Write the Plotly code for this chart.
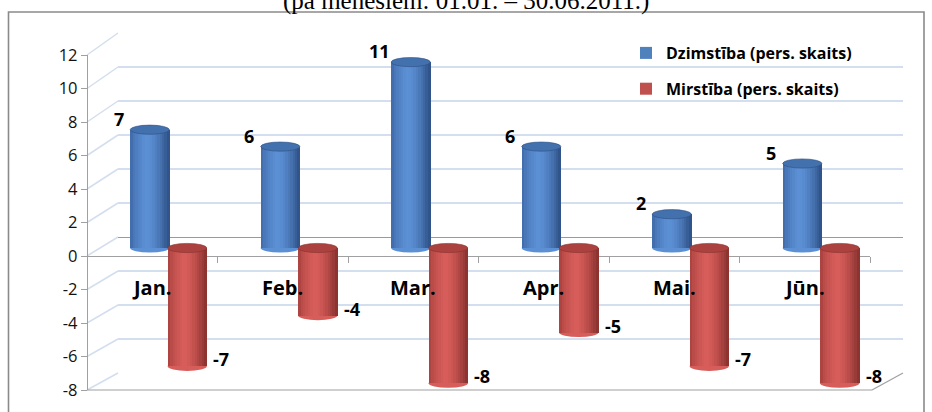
import plotly.graph_objects as go

# ---------------- data ----------------
categories = ["Jan.", "Feb.", "Mar.", "Apr.", "Mai.", "Jūn."]
births = [7, 6, 11, 6, 2, 5]
deaths = [-7, -4, -8, -5, -7, -8]
y_ticks = [-8, -6, -4, -2, 0, 2, 4, 6, 8, 10, 12]
series_names = ["Dzimstība (pers. skaits)", "Mirstība (pers. skaits)"]
title_text = "(pa mēnešiem: 01.01. – 30.06.2011.)"

# ---------------- geometry (pixels of the 932x412 page) ----------------
W, H = 932, 412


def fx(px):
    return px / W


def fy(py):
    return 1 - py / H


FRONT_L, FRONT_R = 87, 870
BACK_L, BACK_R = 118, 903
FRONT_ZERO, FRONT_SCALE = 256, 16.75
BACK_ZERO, BACK_SCALE = 237, 17.0
BAR_ZERO, BAR_SCALE = 248, 16.9
YMIN, YMAX = -8, 12

front_top = FRONT_ZERO - YMAX * FRONT_SCALE
front_bot = FRONT_ZERO - YMIN * FRONT_SCALE
back_top = BACK_ZERO - YMAX * BACK_SCALE
back_bot = BACK_ZERO - YMIN * BACK_SCALE
bar_range = [(BAR_ZERO - front_bot) / BAR_SCALE, (BAR_ZERO - front_top) / BAR_SCALE]

BAR_W = 0.30
BLUE_OFF = -0.169
RED_OFF = 0.118
CAP_RY = 4.6 / BAR_SCALE
N_STRIPES = 16

GRID_C = "#D3DEEE"
AXIS_C = "#A0A0A0"

blue_pal = dict(base="#4F81BD", l="#3B63A0", m="#5C91D6", r="#2D4F84", cap="#4271AE")
red_pal = dict(base="#C0504D", l="#A13C39", m="#D85E5B", r="#86302D", cap="#AC423F")


def hex2rgb(h):
    h = h.lstrip("#")
    return [int(h[i:i + 2], 16) for i in (0, 2, 4)]


def mix(c1, c2, t):
    a, b = hex2rgb(c1), hex2rgb(c2)
    return "rgb(%d,%d,%d)" % tuple(round(a[i] + (b[i] - a[i]) * t) for i in range(3))


def shade(pal, u):
    p = 0.42
    if u < p:
        return mix(pal["l"], pal["m"], (u / p) ** 0.55)
    return mix(pal["m"], pal["r"], ((u - p) / (1 - p)) ** 1.5)


fig = go.Figure()

# back wall subplot (drawn first)
fig.add_trace(go.Scatter(x=[None], y=[None], xaxis="x", yaxis="y", showlegend=False,
                         hoverinfo="skip"))

shapes = []


def add_series(values, name, pal, off, group):
    fig.add_trace(go.Bar(x=categories, y=values, name=name, offset=off, width=BAR_W,
                         marker=dict(color=pal["base"], line=dict(width=0)),
                         xaxis="x2", yaxis="y2", legendgroup=group, showlegend=True))
    sw = BAR_W / N_STRIPES
    for k in range(N_STRIPES):
        u = (k + 0.5) / N_STRIPES
        fig.add_trace(go.Bar(x=categories, y=values, offset=off + k * sw, width=sw * 1.25,
                             marker=dict(color=shade(pal, u), line=dict(width=0)),
                             xaxis="x2", yaxis="y2", legendgroup=group, showlegend=False,
                             hoverinfo="skip"))
    for i, v in enumerate(values):
        x0, x1 = i + off, i + off + BAR_W
        top_v = max(v, 0)
        bot_v = min(v, 0)
        shapes.append(dict(type="circle", xref="x2", yref="y2", x0=x0, x1=x1,
                           y0=bot_v - CAP_RY, y1=bot_v + CAP_RY,
                           fillcolor=shade(pal, 0.45), line=dict(width=0), layer="between"))
        shapes.append(dict(type="circle", xref="x2", yref="y2", x0=x0, x1=x1,
                           y0=top_v - CAP_RY, y1=top_v + CAP_RY,
                           fillcolor=pal["cap"], line=dict(color=pal["r"], width=0.6),
                           layer="above"))


add_series(births, series_names[0], blue_pal, BLUE_OFF, "g1")
add_series(deaths, series_names[1], red_pal, RED_OFF, "g2")

# front value axis subplot
fig.add_trace(go.Scatter(x=[None], y=[None], xaxis="x2", yaxis="y3", showlegend=False,
                         hoverinfo="skip"))

annotations = []
lab_font = dict(family="Open Sans", size=18, color="#000000")
for i, v in enumerate(births):
    annotations.append(dict(x=i + BLUE_OFF + BAR_W / 2, y=v, xref="x2", yref="y2",
                            text="<b>%d</b>" % v, showarrow=False, xshift=-31, yshift=11,
                            font=lab_font))
for i, v in enumerate(deaths):
    annotations.append(dict(x=i + RED_OFF + BAR_W / 2, y=v, xref="x2", yref="y2",
                            text="<b>%d</b>" % v, showarrow=False, xshift=34, yshift=7,
                            font=lab_font))
# category labels (drawn above the cylinders, as in the reference)
for c in categories:
    annotations.append(dict(x=c, y=0, xref="x2", yref="y3", text="<b>%s</b>" % c,
                            showarrow=False, yanchor="middle", yshift=-31,
                            font=dict(family="Open Sans", size=20, color="#000000")))
annotations.append(dict(x=0.5, y=fy(17), xref="paper", yref="paper", xanchor="center",
                        yanchor="bottom", text=title_text, showarrow=False,
                        font=dict(family="Liberation Serif", size=25, color="#000000")))

# frame and 3-D box edges
shapes.append(dict(type="rect", xref="paper", yref="paper", x0=fx(8.5), x1=fx(924),
                   y0=fy(430), y1=fy(12), line=dict(color="#8A8A8A", width=1.6),
                   layer="below"))
for v in y_ticks:
    shapes.append(dict(type="line", xref="paper", yref="paper",
                       x0=fx(FRONT_L), y0=fy(FRONT_ZERO - v * FRONT_SCALE),
                       x1=fx(BACK_L), y1=fy(BACK_ZERO - v * BACK_SCALE),
                       line=dict(color=GRID_C, width=1.5), layer="below"))
shapes.append(dict(type="line", xref="paper", yref="paper", x0=fx(FRONT_L), y0=fy(front_bot),
                   x1=fx(FRONT_R + 2), y1=fy(front_bot), line=dict(color=AXIS_C, width=1.2),
                   layer="below"))
shapes.append(dict(type="line", xref="paper", yref="paper", x0=fx(FRONT_R + 2), y0=fy(front_bot),
                   x1=fx(BACK_R), y1=fy(back_bot), line=dict(color=AXIS_C, width=1.2),
                   layer="below"))

fig.update_layout(
    width=W, height=H, autosize=False,
    margin=dict(l=0, r=0, t=0, b=0, pad=0, autoexpand=False),
    paper_bgcolor="white", plot_bgcolor="rgba(0,0,0,0)",
    barmode="overlay", bargap=0,
    showlegend=True,
    legend=dict(x=fx(626), y=fy(36), xanchor="left", yanchor="top",
                bgcolor="rgba(0,0,0,0)", tracegroupgap=12,
                font=dict(family="Open Sans", size=16, color="#000000", weight="bold"),
                itemclick=False, itemdoubleclick=False),
    xaxis=dict(domain=[fx(BACK_L), fx(BACK_R)], range=[0, 1], visible=False, anchor="y"),
    yaxis=dict(domain=[fy(back_bot), fy(back_top)], range=[YMIN, YMAX], anchor="x",
               tickvals=y_ticks, showticklabels=False, ticks="", showline=False,
               showgrid=True, gridcolor=GRID_C, gridwidth=1.6,
               zeroline=True, zerolinecolor="#9A9A9A", zerolinewidth=1.3),
    xaxis2=dict(domain=[fx(FRONT_L), fx(FRONT_R)], type="category", range=[-0.5, 5.5],
                anchor="free", position=fy(FRONT_ZERO), showline=True, linecolor=AXIS_C,
                linewidth=1.3, ticks="outside", tickson="boundaries", ticklen=6,
                tickcolor=AXIS_C, showgrid=False, zeroline=False, layer="below traces",
                showticklabels=False),
    yaxis2=dict(domain=[fy(front_bot), fy(front_top)], range=bar_range, anchor="x2",
                visible=False, showgrid=False, zeroline=False),
    yaxis3=dict(overlaying="y2", anchor="free", position=fx(FRONT_L), side="left",
                range=[YMIN, YMAX], tickvals=y_ticks, ticktext=[str(v) for v in y_ticks],
                showline=True, linecolor=AXIS_C,
                linewidth=1.3, ticks="outside", ticklen=6, tickcolor=AXIS_C,
                showgrid=False, zeroline=False,
                tickfont=dict(family="Open Sans", size=16.5, color="#111111")),
    shapes=shapes,
    annotations=annotations,
)

fig.write_html("out.html", config={"responsive": False, "displayModeBar": False},
               default_width="%dpx" % W, default_height="%dpx" % H,
               post_script="document.body.style.margin='0';document.body.style.overflow='hidden';")
